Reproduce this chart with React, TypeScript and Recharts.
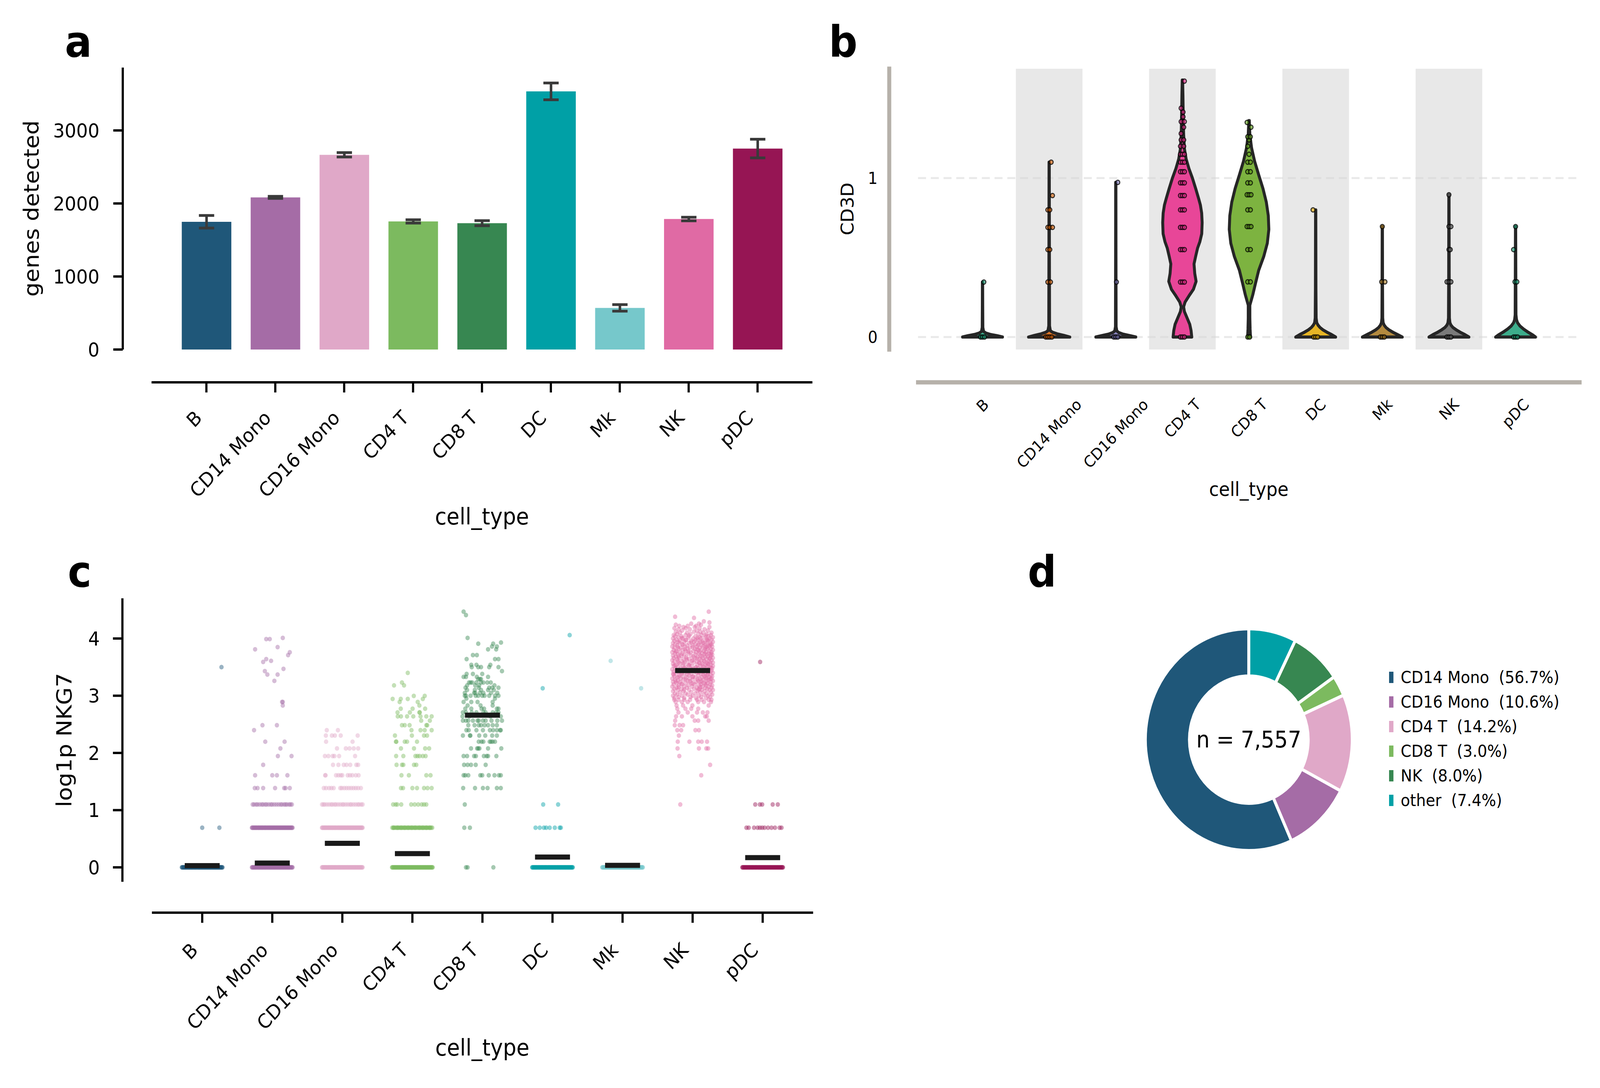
import React from 'react';
import {
  ComposedChart, Bar, Cell, ErrorBar, XAxis, YAxis, Scatter, Area,
  ReferenceArea, ReferenceLine, PieChart, Pie, Legend,
} from 'recharts';

const FONT = "'DejaVu Sans', sans-serif";
const W = 4392;
const H = 2786;

// ---------- shared categories ----------
const CELL_TYPES = ['B', 'CD14 Mono', 'CD16 Mono', 'CD4 T', 'CD8 T', 'DC', 'Mk', 'NK', 'pDC'];
const CAT_TICKS = [0, 1, 2, 3, 4, 5, 6, 7, 8];
const CELL_COLORS = ['#1f5779', '#a56ca6', '#e0a8c8', '#7cba5f', '#378751', '#00a0a6', '#76c8cb', '#e06aa4', '#961554'];
const VIOLIN_COLORS = ['#1b9e77', '#d95f02', '#7570b3', '#e7298a', '#66a61e', '#e6ab02', '#a6761d', '#666666', '#1b9e77'];

// ---------- panel a : genes detected ----------
const GENES_MEAN = [1749, 2083, 2666, 1754, 1730, 3535, 570, 1787, 2752];
const GENES_SEM = [86, 14, 30, 23, 35, 115, 45, 25, 128];
const GENES_TICKS = [0, 1000, 2000, 3000];
const GENES_DOMAIN: [number, number] = [0, 3861];

// ---------- panel b : CD3D violins ([y, half width]) ----------
const CD3D_TICKS = [0, 1];
const CD3D_DOMAIN: [number, number] = [-0.0786, 1.688];
const STRIPE_CATS = [1, 3, 5, 7];
const VIOLIN_B = [[0, 0.3], [0.008, 0.22], [0.016, 0.12], [0.025, 0.05], [0.035, 0.016], [0.06, 0.005], [0.2, 0.003], [0.346, 0.002]];
const VIOLIN_CD14 = [[0, 0.31], [0.01, 0.22], [0.02, 0.12], [0.03, 0.05], [0.04, 0.018], [0.07, 0.006], [0.5, 0.004], [1.1, 0.002]];
const VIOLIN_CD16 = [[0, 0.3], [0.009, 0.21], [0.018, 0.11], [0.028, 0.045], [0.038, 0.016], [0.065, 0.005], [0.5, 0.003], [0.973, 0.002]];
const VIOLIN_CD4T = [[0, 0.14], [0.04, 0.13], [0.08, 0.11], [0.12, 0.07], [0.16, 0.03], [0.19, 0.018], [0.22, 0.04], [0.26, 0.1], [0.3, 0.165], [0.35, 0.205], [0.4, 0.185], [0.46, 0.174], [0.51, 0.2], [0.56, 0.228], [0.6, 0.262], [0.65, 0.29], [0.72, 0.296], [0.78, 0.289], [0.83, 0.27], [0.87, 0.244], [0.93, 0.202], [1.0, 0.15], [1.06, 0.098], [1.12, 0.056], [1.185, 0.03], [1.28, 0.018], [1.4, 0.012], [1.52, 0.008], [1.617, 0.003]];
const VIOLIN_CD8T = [[0, 0.022], [0.05, 0.016], [0.12, 0.012], [0.2, 0.012], [0.267, 0.057], [0.335, 0.095], [0.42, 0.145], [0.506, 0.22], [0.59, 0.274], [0.677, 0.297], [0.763, 0.289], [0.849, 0.259], [0.934, 0.209], [1.02, 0.145], [1.105, 0.084], [1.19, 0.038], [1.276, 0.012], [1.362, 0.004]];
const VIOLIN_DC = [[0, 0.3], [0.015, 0.24], [0.03, 0.17], [0.045, 0.11], [0.06, 0.065], [0.075, 0.035], [0.09, 0.016], [0.12, 0.007], [0.3, 0.004], [0.8, 0.002]];
const VIOLIN_MK = [[0, 0.3], [0.015, 0.23], [0.03, 0.16], [0.045, 0.1], [0.06, 0.055], [0.075, 0.028], [0.09, 0.013], [0.12, 0.006], [0.3, 0.004], [0.695, 0.002]];
const VIOLIN_NK = [[0, 0.3], [0.015, 0.24], [0.03, 0.17], [0.045, 0.11], [0.06, 0.06], [0.075, 0.03], [0.09, 0.015], [0.12, 0.007], [0.4, 0.004], [0.895, 0.002]];
const VIOLIN_PDC = [[0, 0.3], [0.015, 0.25], [0.03, 0.19], [0.05, 0.12], [0.07, 0.065], [0.09, 0.03], [0.11, 0.014], [0.14, 0.006], [0.4, 0.004], [0.695, 0.002]];
const VIOLINS = [VIOLIN_B, VIOLIN_CD14, VIOLIN_CD16, VIOLIN_CD4T, VIOLIN_CD8T, VIOLIN_DC, VIOLIN_MK, VIOLIN_NK, VIOLIN_PDC];

type Row = [number, number[]];
// strip points inside the violins: [value, jitter offsets]
const CD3D_B: Row[] = [[0, [-0.03, 0, 0.03]], [0.346, [0.02]]];
const CD3D_CD14: Row[] = [[0, [-0.05, -0.02, 0.01, 0.04]], [0.346, [-0.02, 0.02]], [0.55, [-0.02, 0.01]], [0.69, [-0.02, 0.01, 0.05]], [0.8, [-0.02, 0.01]], [0.89, [0.05]], [1.1, [0.03]]];
const CD3D_CD16: Row[] = [[0, [-0.03, 0, 0.03]], [0.346, [0.01]], [0.973, [0.03]]];
const CD3D_CD4T: Row[] = [[0, [-0.03, 0, 0.03]], [0.346, [-0.03, 0, 0.03]], [0.55, [-0.03, 0, 0.03]], [0.69, [-0.03, 0, 0.03]], [0.8, [-0.03, 0, 0.03]], [0.89, [-0.03, 0, 0.03]], [0.97, [-0.03, 0, 0.03]], [1.04, [-0.03, 0, 0.03]], [1.1, [-0.03, 0, 0.03]], [1.15, [-0.03, 0, 0.03]], [1.2, [-0.03, 0.02]], [1.24, [-0.02, 0.02]], [1.28, [-0.02]], [1.32, [0.02]], [1.355, [-0.02, 0.03]], [1.385, [0.01]], [1.415, [0.01]], [1.44, [-0.02]], [1.61, [0.03]]];
const CD3D_CD8T: Row[] = [[0, [-0.02, 0.01]], [0.347, [-0.02, 0.02]], [0.55, [-0.02, 0.02]], [0.695, [-0.03, 0, 0.03]], [0.8, [-0.02, 0.02]], [0.895, [-0.03, 0, 0.03]], [0.97, [-0.02, 0.02]], [1.04, [-0.02, 0.02]], [1.1, [-0.02, 0.02]], [1.15, [0]], [1.2, [-0.02]], [1.24, [0]], [1.26, [-0.02, 0.02]], [1.32, [0.03]], [1.35, [-0.03]]];
const CD3D_DC: Row[] = [[0, [-0.03, 0, 0.03]], [0.8, [-0.04]]];
const CD3D_MK: Row[] = [[0, [-0.03, 0, 0.03]], [0.347, [-0.01, 0.04]], [0.695, [0]]];
const CD3D_NK: Row[] = [[0, [-0.03, 0, 0.03]], [0.347, [-0.03, 0, 0.03]], [0.55, [0, 0.02]], [0.695, [0, 0.03]], [0.895, [0]]];
const CD3D_PDC: Row[] = [[0, [-0.03, 0, 0.03]], [0.347, [-0.01, 0.02]], [0.55, [-0.03]], [0.695, [0]]];
const CD3D_POINTS = [CD3D_B, CD3D_CD14, CD3D_CD16, CD3D_CD4T, CD3D_CD8T, CD3D_DC, CD3D_MK, CD3D_NK, CD3D_PDC];

// ---------- panel c : NKG7 strip ([value, jitter offsets]) ----------
const NKG7_TICKS = [0, 1, 2, 3, 4];
const NKG7_DOMAIN: [number, number] = [-0.2526, 4.703];
const NKG7_MEAN = [0.03, 0.075, 0.42, 0.24, 2.66, 0.18, 0.035, 3.44, 0.17];

// dense (solid-looking) strips read as many overlapping points
const DENSE_1 = [-0.29, -0.277, -0.262, -0.248, -0.236, -0.221, -0.205, -0.192, -0.178, -0.163, -0.149, -0.137, -0.121, -0.106, -0.094, -0.079, -0.063, -0.05, -0.036, -0.021, -0.008, 0.006, 0.021, 0.035, 0.048, 0.064, 0.077, 0.092, 0.106, 0.119, 0.134, 0.149, 0.162, 0.177, 0.19, 0.206, 0.22, 0.233, 0.248, 0.262, 0.277, 0.29];
const DENSE_2 = [-0.288, -0.272, -0.259, -0.244, -0.229, -0.216, -0.2, -0.187, -0.172, -0.158, -0.143, -0.13, -0.115, -0.101, -0.087, -0.072, -0.058, -0.043, -0.03, -0.015, 0.0, 0.013, 0.028, 0.042, 0.057, 0.071, 0.085, 0.099, 0.114, 0.128, 0.142, 0.156, 0.171, 0.185, 0.199, 0.213, 0.228, 0.242, 0.256, 0.27, 0.284];

const NKG7_B: Row[] = [
  [0, DENSE_1], [0, DENSE_2],
  [0.693, [0.0, 0.245]],
  [3.5, [0.275]],
];
const NKG7_CD14: Row[] = [
  [0, DENSE_1], [0, DENSE_2],
  [0.693, DENSE_2], [0.693, DENSE_1],
  [1.099, [-0.28, -0.26, -0.23, -0.21, -0.18, -0.15, -0.13, -0.1, -0.08, -0.05, -0.02, 0.0, 0.03, 0.06, 0.09, 0.12, 0.14, 0.17, 0.19, 0.21, 0.24, 0.26, 0.28]],
  [1.386, [-0.25, -0.21, -0.13, 0.04, 0.17, 0.19, 0.25]],
  [1.609, [-0.245, 0.0, 0.066, 0.216]],
  [1.792, [-0.13]],
  [1.946, [0.08, 0.275]],
  [2.079, [0.116]],
  [2.197, [-0.1, 0.176]],
  [2.398, [-0.26]],
  [2.485, [-0.14, 0.066]],
  [2.83, [0.15]],
  [2.89, [0.14, 0.15]],
  [3.26, [0.03]],
  [3.37, [-0.07, 0.076]],
  [3.43, [-0.106]],
  [3.47, [0.16]],
  [3.59, [-0.13]],
  [3.61, [-0.017]],
  [3.64, [-0.086]],
  [3.71, [0.226]],
  [3.76, [0.25]],
  [3.81, [-0.245]],
  [3.85, [0.076]],
  [3.99, [-0.086, -0.036]],
  [4.01, [0.15]],
];
const NKG7_CD16: Row[] = [
  [0, DENSE_1], [0, DENSE_2],
  [0.693, DENSE_1], [0.693, DENSE_2],
  [1.099, [-0.29, -0.27, -0.25, -0.22, -0.19, -0.16, -0.14, -0.11, -0.09, -0.06, -0.03, 0.0, 0.02, 0.05, 0.08, 0.11, 0.13, 0.16, 0.19, 0.22, 0.24, 0.27, 0.29]],
  [1.386, [-0.265, -0.232, -0.189, -0.156, -0.123, -0.03, -0.007, 0.027, 0.06, 0.093, 0.126, 0.159, 0.192, 0.226, 0.265]],
  [1.609, [-0.245, -0.239, -0.09, -0.056, -0.023, 0.0, 0.076, 0.109, 0.143, 0.192, 0.232]],
  [1.792, [-0.133, -0.056, 0.02, 0.06, 0.113, 0.2, 0.226]],
  [1.946, [-0.249, -0.199, -0.139, -0.113, -0.046, 0.182]],
  [2.079, [-0.076, 0.05, 0.103, 0.163, 0.226]],
  [2.197, [-0.232, 0.146]],
  [2.303, [-0.235, -0.149, -0.106, -0.023, 0.219]],
  [2.398, [-0.222, -0.063]],
];
const NKG7_CD4T: Row[] = [
  [0, DENSE_1], [0, DENSE_2],
  [0.693, DENSE_2], [0.693, [-0.27, -0.21, -0.16, -0.11, -0.06, -0.01, 0.04, 0.1, 0.15, 0.2, 0.25]],
  [1.099, [-0.275, -0.239, -0.216, -0.159, -0.017, 0.033, 0.083, 0.133, 0.166, 0.199]],
  [1.386, [-0.163, -0.133, 0.0, 0.066, 0.166, 0.216, 0.275]],
  [1.609, [-0.156, -0.05, 0.199, 0.259]],
  [1.792, [-0.226, -0.149, -0.129, 0.023, 0.056]],
  [1.946, [-0.232, -0.129, 0.043, 0.073, 0.103, 0.149, 0.189]],
  [2.079, [-0.163, 0.023, 0.182, 0.239]],
  [2.197, [-0.235, -0.229, -0.109, -0.076, 0.066]],
  [2.303, [-0.249, -0.007, 0.166, 0.209]],
  [2.398, [-0.013, 0.116, 0.176, 0.275]],
  [2.485, [-0.149, -0.109, -0.04, 0.199, 0.212]],
  [2.565, [0.126, 0.249]],
  [2.639, [-0.209, -0.163, -0.076, 0.013, 0.116, 0.199, 0.275]],
  [2.708, [-0.212, -0.036, 0.1, 0.106]],
  [2.773, [-0.166, 0.003, 0.182]],
  [2.83, [0.1]],
  [2.89, [-0.182, 0.076]],
  [2.944, [-0.282, -0.166, -0.066, 0.149]],
  [2.996, [0.02, 0.176]],
  [3.18, [-0.262, -0.119]],
  [3.23, [-0.149]],
  [3.4, [-0.066]],
];
const NKG7_CD8T: Row[] = [
  [0, [-0.235, -0.212, 0.156]],
  [0.693, [-0.259, -0.179]],
  [1.099, [-0.252]],
  [1.386, [-0.275, -0.106, 0.007, 0.073, 0.206, 0.262]],
  [1.609, [-0.269, -0.245, -0.202, -0.03, -0.003, 0.09, 0.172, 0.235, 0.262]],
  [1.792, [-0.262, -0.212, -0.163, -0.096, 0.046]],
  [1.946, [-0.269, -0.219, -0.119, -0.093, 0.02, 0.06, 0.08, 0.199]],
  [2.079, [-0.163, -0.076, -0.06, -0.043, 0.08, 0.269]],
  [2.197, [-0.053, -0.013, 0.013, 0.103, 0.123, 0.146, 0.179]],
  [2.303, [-0.279, -0.179, -0.172, -0.046, 0.04, 0.139, 0.206]],
  [2.398, [-0.229, -0.196, -0.086, 0.007, 0.106, 0.153, 0.206, 0.252, 0.262]],
  [2.485, [-0.202, -0.113, -0.053, -0.02, 0.03, 0.08, 0.146, 0.206]],
  [2.565, [-0.279, -0.235, -0.202, -0.136, -0.07, -0.053, 0.007, 0.046, 0.129, 0.212, 0.279]],
  [2.639, [-0.285, -0.186, 0.113, 0.262]],
  [2.708, [-0.279, -0.235, -0.153, -0.086, 0.013, 0.046, 0.146, 0.196, 0.229]],
  [2.773, [-0.245, -0.159, -0.013, 0.023, 0.206, 0.229]],
  [2.83, [-0.212, -0.027, 0.146]],
  [2.89, [-0.269, -0.159, -0.07, 0.146]],
  [2.95, [-0.229, 0.179]],
  [3.0, [-0.252, -0.235, -0.169, -0.096, -0.06, -0.003, 0.03, 0.096, 0.179, 0.229]],
  [3.05, [-0.252, -0.119, -0.103, -0.036, 0.013, 0.123, 0.212]],
  [3.1, [-0.219, -0.109, -0.02, 0.08, 0.163]],
  [3.14, [-0.242, -0.053, 0.096, 0.139, 0.229]],
  [3.18, [-0.219, -0.103, -0.046, 0.172]],
  [3.23, [-0.192, -0.169, -0.146, -0.086, -0.02, 0.013, 0.07, 0.119]],
  [3.29, [-0.06, -0.036, -0.02]],
  [3.33, [-0.269, -0.235, -0.08, 0.08]],
  [3.38, [-0.226, -0.136, -0.003]],
  [3.43, [0.279]],
  [3.5, [-0.153, -0.06, -0.02, 0.096, 0.229]],
  [3.54, [-0.159, -0.086, 0.113]],
  [3.64, [-0.226, 0.179, 0.229]],
  [3.71, [-0.136, -0.08]],
  [3.81, [0.08, 0.196]],
  [3.86, [0.136, 0.206]],
  [3.91, [-0.06, 0.153]],
  [3.93, [0.265]],
  [4.01, [-0.212]],
  [4.41, [-0.235]],
  [4.47, [-0.269]],
];
const NKG7_DC: Row[] = [
  [0, DENSE_1], [0, DENSE_2],
  [0.693, [-0.242, -0.182, -0.123, -0.09, -0.04, 0.033, 0.103, 0.119]],
  [1.099, [-0.133, 0.08]],
  [3.13, [-0.14]],
  [4.06, [0.245]],
];
const NKG7_MK: Row[] = [
  [0, DENSE_1], [0, DENSE_2],
  [3.61, [-0.17]],
  [3.13, [0.265]],
];
const NKG7_NK: Row[] = [
  [1.099, [-0.176]], [1.609, [0.123]], [1.792, [0.25]], [1.946, [-0.19]],
  [2.079, [-0.215, 0.09, 0.196, 0.222]],
  [2.197, [-0.212, -0.046, 0.08, 0.13, 0.206]],
  [2.303, [-0.196]],
  [2.398, [-0.219, -0.163, 0.04, 0.09]],
  [2.485, [-0.255, -0.186, -0.136]],
  [2.565, [-0.249, 0.03, 0.08, 0.229]],
  [2.639, [-0.236, -0.153, -0.003, 0.179, 0.202]],
  [2.708, [-0.202, -0.07, 0.063, 0.146, 0.212]],
  [2.773, [-0.219, -0.103, -0.02, 0.08]],
  [2.83, [-0.229, -0.136, -0.003, 0.229]],
  [2.89, [-0.242, -0.153, -0.07, 0.08, 0.163, 0.262]],
  [2.93, [-0.262, -0.202, -0.119, -0.036, 0.063, 0.129, 0.229, 0.269]],
  [2.96, [-0.26, -0.12, 0.05, 0.19]],
  [2.98, [-0.2, -0.03, 0.12, 0.25]],
  [3.0, [-0.28, -0.15, 0.0, 0.09, 0.22]],
  [3.02, [-0.22, -0.07, 0.16, 0.28]],
  [3.04, [-0.25, -0.1, 0.04, 0.2]],
  [3.06, [-0.18, -0.02, 0.11, 0.26]],
  [3.08, [-0.28, -0.13, 0.07, 0.17]],
  [3.1, [-0.21, -0.05, 0.13, 0.24, 0.29]],
  [3.11, [-0.12, 0.08]],
  [3.12, [-0.26, -0.16, 0.02, 0.1, 0.21]],
  [3.14, [-0.23, -0.08, 0.06, 0.18, 0.27]],
  [3.15, [-0.2, 0.11]],
  [3.16, [-0.29, -0.12, -0.01, 0.14, 0.23]],
  [3.18, [-0.2, -0.06, 0.09, 0.19, 0.28]],
  [3.2, [-0.27, -0.15, 0.03, 0.12, 0.25]],
  [3.21, [-0.16, 0.0, 0.18]],
  [3.22, [-0.23, -0.1, -0.02, 0.16, 0.21]],
  [3.24, [-0.28, -0.18, 0.05, 0.11, 0.26]],
  [3.25, [-0.24, -0.04, 0.13]],
  [3.26, [-0.21, -0.07, 0.08, 0.2, 0.29]],
  [3.28, [-0.25, -0.13, 0.0, 0.15, 0.23]],
  [3.29, [-0.1, 0.07, 0.25]],
  [3.3, [-0.29, -0.17, -0.04, 0.1, 0.19, 0.27]],
  [3.32, [-0.22, -0.09, 0.04, 0.13, 0.24]],
  [3.33, [-0.2, 0.0, 0.19]],
  [3.34, [-0.26, -0.14, 0.01, 0.17, 0.28]],
  [3.36, [-0.19, -0.05, 0.08, 0.21, 0.26]],
  [3.37, [-0.27, -0.08, 0.15]],
  [3.38, [-0.28, -0.16, -0.02, 0.12, 0.22]],
  [3.4, [-0.24, -0.11, 0.06, 0.18, 0.29]],
  [3.41, [-0.15, 0.09, 0.22]],
  [3.42, [-0.27, -0.2, -0.06, 0.03, 0.15, 0.25]],
  [3.44, [-0.22, -0.13, 0.1, 0.2, 0.27]],
  [3.45, [-0.22, -0.02, 0.17]],
  [3.46, [-0.29, -0.08, 0.01, 0.13, 0.23]],
  [3.48, [-0.25, -0.17, -0.03, 0.08, 0.18, 0.28]],
  [3.49, [-0.12, 0.04, 0.26]],
  [3.5, [-0.21, -0.1, 0.05, 0.16, 0.24]],
  [3.52, [-0.27, -0.14, -0.01, 0.11, 0.21, 0.29]],
  [3.53, [-0.25, -0.05, 0.14]],
  [3.54, [-0.23, -0.06, 0.07, 0.19, 0.26]],
  [3.56, [-0.28, -0.18, -0.04, 0.14, 0.22]],
  [3.57, [-0.13, 0.1, 0.2]],
  [3.58, [-0.2, -0.11, 0.02, 0.09, 0.25, 0.29]],
  [3.6, [-0.26, -0.15, 0.06, 0.17, 0.23]],
  [3.61, [-0.21, -0.01, 0.16]],
  [3.62, [-0.29, -0.08, 0.0, 0.12, 0.27]],
  [3.64, [-0.22, -0.13, -0.05, 0.1, 0.2]],
  [3.65, [-0.09, 0.06, 0.24]],
  [3.66, [-0.27, -0.19, 0.03, 0.15, 0.25, 0.29]],
  [3.68, [-0.24, -0.09, 0.07, 0.18, 0.22]],
  [3.69, [-0.2, 0.01, 0.13]],
  [3.7, [-0.28, -0.16, -0.02, 0.11, 0.26]],
  [3.72, [-0.21, -0.12, 0.04, 0.2, 0.28]],
  [3.73, [-0.15, 0.17, 0.26]],
  [3.74, [-0.25, -0.06, 0.09, 0.14, 0.23]],
  [3.76, [-0.29, -0.18, -0.03, 0.05, 0.19, 0.27]],
  [3.77, [-0.24, -0.06, 0.1]],
  [3.78, [-0.23, -0.1, 0.01, 0.16, 0.24]],
  [3.8, [-0.27, -0.14, 0.08, 0.12, 0.29]],
  [3.81, [-0.11, 0.06, 0.18]],
  [3.82, [-0.2, -0.07, 0.03, 0.21, 0.26]],
  [3.84, [-0.26, -0.17, -0.04, 0.1, 0.18]],
  [3.85, [-0.21, 0.0, 0.2]],
  [3.86, [-0.29, -0.11, 0.06, 0.15, 0.24, 0.28]],
  [3.88, [-0.22, -0.08, 0.0, 0.13, 0.22]],
  [3.89, [-0.14, 0.08, 0.25]],
  [3.9, [-0.25, -0.15, 0.04, 0.19, 0.27]],
  [3.92, [-0.28, -0.05, 0.09, 0.17, 0.25]],
  [3.93, [-0.19, -0.02, 0.15]],
  [3.94, [-0.21, -0.12, 0.02, 0.11, 0.29]],
  [3.96, [-0.26, -0.18, -0.02, 0.14, 0.22]],
  [3.97, [-0.1, 0.04, 0.21]],
  [3.98, [-0.23, -0.09, 0.07, 0.2, 0.27]],
  [4.0, [-0.28, -0.14, 0.01, 0.12, 0.24]],
  [4.01, [-0.15, 0.07]],
  [4.02, [-0.2, -0.06, 0.1, 0.18, 0.29]],
  [4.04, [-0.25, -0.16, 0.04, 0.23]],
  [4.05, [-0.05, 0.19]],
  [4.06, [-0.27, -0.1, 0.13, 0.26]],
  [4.08, [-0.22, -0.03, 0.08, 0.2]],
  [4.1, [-0.18, -0.08, 0.15, 0.27]],
  [4.12, [-0.24, 0.02, 0.11]],
  [4.14, [-0.15, 0.06, 0.22]],
  [4.16, [-0.2, -0.04, 0.17]],
  [4.18, [-0.26, -0.1, 0.1]],
  [4.2, [-0.13, 0.03, 0.24]],
  [4.22, [-0.19, -0.07, 0.05]],
  [4.24, [-0.24, 0.12]],
  [4.26, [-0.02, 0.09]],
  [4.28, [0.24]], [4.3, [0.16]], [4.36, [0.02]], [4.38, [-0.25]], [4.47, [0.23]],
];
const NKG7_PDC: Row[] = [
  [0, DENSE_1], [0, DENSE_2],
  [0.693, [-0.232, -0.199, -0.123, -0.073, -0.04, -0.007, 0.027, 0.076, 0.126, 0.176, 0.242, 0.269]],
  [1.099, [-0.106, -0.04, -0.007, 0.143, 0.216]],
  [3.59, [-0.036]],
];
const NKG7_POINTS = [NKG7_B, NKG7_CD14, NKG7_CD16, NKG7_CD4T, NKG7_CD8T, NKG7_DC, NKG7_MK, NKG7_NK, NKG7_PDC];

// ---------- panel d : composition donut ----------
const PIE_LABELS = ['CD14 Mono', 'CD16 Mono', 'CD4 T', 'CD8 T', 'NK', 'other'];
const PIE_VALUES = [56.7, 10.6, 14.2, 3.0, 8.0, 7.4];
const PIE_COLORS = ['#1f5779', '#a56ca6', '#e0a8c8', '#7cba5f', '#378751', '#00a0a6'];
const N_CELLS_LABEL = 'n = 7,557';

// ---------- helpers ----------
const flattenRows = (rows: Row[], idx: number, yKey: string) =>
  rows.flatMap(([y, offs]) => offs.map((o) => ({ x: idx + o, [yKey]: y })));

const violinData = (profile: number[][], idx: number) => {
  const top = profile[profile.length - 1][0];
  return [
    { v: profile[0][0], w: [idx, idx] },
    ...profile.map(([v, hw]) => ({ v, w: [idx - hw, idx + hw] })),
    { v: top, w: [idx, idx] },
  ];
};

const CHAR_W: Record<string, number> = {
  B: 0.686, C: 0.698, D: 0.77, M: 0.863, T: 0.611, K: 0.656, N: 0.748, k: 0.579,
  o: 0.612, n: 0.634, p: 0.635, '1': 0.636, '4': 0.636, '6': 0.636, '8': 0.636, ' ': 0.318,
};
const textWidthEm = (s: string) => s.split('').reduce((a, c) => a + (CHAR_W[c] ?? 0.62), 0);

// tick label: rotated 45°, right aligned (panels a, c)
const RightRotTick = (props: any) => {
  const { x, y, payload } = props;
  const ax = x - 9;
  const ay = y + 152;
  return (
    <text x={ax} y={ay} transform={`rotate(-45 ${ax} ${ay})`} textAnchor="end"
      fontFamily={FONT} fontSize={50} fill="#000">
      {CELL_TYPES[payload.value]}
    </text>
  );
};

// tick label: rotated 45°, centred (panel b)
const CenterRotTick = (props: any) => {
  const { x, y, payload } = props;
  const label = CELL_TYPES[payload.value] ?? '';
  const fs = 40;
  const w = textWidthEm(label) * fs;
  const h = 0.73 * fs;
  const cy = y + 123 + 0.354 * (w + h);
  return (
    <text x={x} y={cy} transform={`rotate(-45 ${x} ${cy})`} textAnchor="middle"
      dominantBaseline="central" fontFamily={FONT} fontSize={fs} fill="#000">
      {label}
    </text>
  );
};

const BLACK_LINE = { stroke: '#000', strokeWidth: 6 };
const GRAY_SPINE = { stroke: '#b6b1aa', strokeWidth: 11, strokeLinecap: 'square' as const };

// ---------- panels ----------
function PanelA() {
  const data = CELL_TYPES.map((name, i) => ({ i, name, g: GENES_MEAN[i], e: GENES_SEM[i] }));
  return (
    <ComposedChart width={2300} height={1400} data={data} margin={{ top: 173, right: 70, bottom: 504, left: 415 }}>
      <XAxis type="number" dataKey="i" domain={[-0.796, 8.796]} ticks={CAT_TICKS} interval={0}
        allowDataOverflow height={1} tickSize={26} tickMargin={0}
        axisLine={{ ...BLACK_LINE, transform: 'translate(0 84)' }}
        tickLine={{ ...BLACK_LINE, transform: 'translate(0 84)' }}
        tick={(p: any) => <RightRotTick {...p} />} />
      <YAxis type="number" domain={GENES_DOMAIN} ticks={GENES_TICKS} interval={0} allowDataOverflow
        width={1} tickSize={26} tickMargin={117}
        axisLine={{ ...BLACK_LINE, transform: 'translate(-79 0)' }}
        tickLine={{ ...BLACK_LINE, transform: 'translate(-79 0)' }}
        tick={{ fontSize: 50, fill: '#000', fontFamily: FONT }} />
      <Bar dataKey="g" barSize={136} isAnimationActive={false}>
        {data.map((d, i) => <Cell key={d.name} fill={CELL_COLORS[i]} />)}
        <ErrorBar dataKey="e" width={21} strokeWidth={7} stroke="#3a3a3a" />
      </Bar>
    </ComposedChart>
  );
}

function PanelB() {
  return (
    <ComposedChart layout="vertical" width={2142} height={1400} margin={{ top: 176, right: 56, bottom: 504, left: 269 }}>
      <XAxis type="number" dataKey="x" domain={[-0.968, 8.961]} ticks={CAT_TICKS} interval={0}
        allowDataOverflow height={1} tickSize={0} tickMargin={0} tickLine={false}
        axisLine={{ ...GRAY_SPINE, transform: 'translate(0 84)' }}
        tick={(p: any) => <CenterRotTick {...p} />} />
      <YAxis type="number" dataKey="v" domain={CD3D_DOMAIN} ticks={CD3D_TICKS} interval={0} allowDataOverflow
        reversed width={1} tickSize={0} tickMargin={111} tickLine={false}
        axisLine={{ ...GRAY_SPINE, transform: 'translate(-79 0)' }}
        tick={{ fontSize: 42, fill: '#000', fontFamily: FONT }} />
      {STRIPE_CATS.map((c) => (
        <ReferenceArea key={`s${c}`} x1={c - 0.5} x2={c + 0.5} fill="#e8e8e8" fillOpacity={1}
          stroke="none" ifOverflow="hidden" zIndex={-70} />
      ))}
      {CD3D_TICKS.map((t) => (
        <ReferenceLine key={`g${t}`} y={t} stroke="#d4d4d4" strokeOpacity={0.5} strokeWidth={5}
          strokeDasharray="22 13" zIndex={-60} />
      ))}
      {VIOLINS.map((prof, i) => (
        <Area key={`v${i}`} data={violinData(prof, i)} dataKey="w" type="linear"
          fill={VIOLIN_COLORS[i]} fillOpacity={0.85} stroke="#262626" strokeWidth={8}
          strokeLinejoin="round" dot={false} activeDot={false} isAnimationActive={false} />
      ))}
      {CD3D_POINTS.map((rows, i) => (
        <Scatter key={`p${i}`} data={flattenRows(rows, i, 'v')} isAnimationActive={false}
          shape={(p: any) => (
            <circle cx={p.cx} cy={p.cy} r={5.5} fill={VIOLIN_COLORS[i]} fillOpacity={0.6}
              stroke="#000" strokeOpacity={0.75} strokeWidth={3} />
          )} />
      ))}
    </ComposedChart>
  );
}

function PanelC() {
  const means = NKG7_MEAN.map((m, i) => ({ x: i, y: m }));
  return (
    <ComposedChart width={2300} height={1406} margin={{ top: 152, right: 68, bottom: 527, left: 416 }}>
      <XAxis type="number" dataKey="x" domain={[-0.718, 8.72]} ticks={CAT_TICKS} interval={0}
        allowDataOverflow height={1} tickSize={26} tickMargin={0}
        axisLine={{ ...BLACK_LINE, transform: 'translate(0 79)' }}
        tickLine={{ ...BLACK_LINE, transform: 'translate(0 79)' }}
        tick={(p: any) => <RightRotTick {...p} />} />
      <YAxis type="number" dataKey="y" domain={NKG7_DOMAIN} ticks={NKG7_TICKS} interval={0} allowDataOverflow
        width={1} tickSize={26} tickMargin={117}
        axisLine={{ ...BLACK_LINE, transform: 'translate(-81 0)' }}
        tickLine={{ ...BLACK_LINE, transform: 'translate(-81 0)' }}
        tick={{ fontSize: 50, fill: '#000', fontFamily: FONT }} />
      {NKG7_POINTS.map((rows, i) => (
        <Scatter key={`c${i}`} data={flattenRows(rows, i, 'y')} isAnimationActive={false}
          shape={(p: any) => (
            <circle cx={p.cx} cy={p.cy} r={6} fill={CELL_COLORS[i]} fillOpacity={0.45} />
          )} />
      ))}
      <Scatter data={means} isAnimationActive={false}
        shape={(p: any) => <rect x={p.cx - 48} y={p.cy - 6.5} width={96} height={13} fill="#1a1a1a" />} />
    </ComposedChart>
  );
}

const PieLegend = () => (
  <div style={{ fontFamily: FONT, fontSize: 42, color: '#000' }}>
    {PIE_LABELS.map((name, i) => (
      <div key={name} style={{ display: 'flex', alignItems: 'center', height: 63 }}>
        <div style={{ width: 12, height: 29, background: PIE_COLORS[i], marginRight: 20, flex: 'none' }} />
        <span style={{ whiteSpace: 'pre', lineHeight: '63px' }}>{`${name}  (${PIE_VALUES[i].toFixed(1)}%)`}</span>
      </div>
    ))}
  </div>
);

function PanelD() {
  const data = PIE_LABELS.map((name, i) => ({ name, value: PIE_VALUES[i] }));
  return (
    <PieChart width={1692} height={1000} margin={{ top: 0, right: 0, bottom: 0, left: 0 }}>
      <Pie data={data} dataKey="value" nameKey="name" cx={728} cy={514} innerRadius={163} outerRadius={284}
        startAngle={90} endAngle={450} stroke="#fff" strokeWidth={8} isAnimationActive={false}>
        {data.map((d, i) => <Cell key={d.name} fill={PIE_COLORS[i]} />)}
      </Pie>
      <Legend layout="vertical" align="right" verticalAlign="top" content={() => <PieLegend />}
        wrapperStyle={{ left: 1113, top: 323, width: 560 }} />
    </PieChart>
  );
}

// the browser viewport may be narrower than the requested canvas: fit the figure to it
const getScale = () => {
  if (typeof window === 'undefined') return { sx: 1, sy: 1 };
  const w = window.innerWidth || W;
  const h = window.innerHeight || H;
  return { sx: w / W, sy: h / H };
};

export default function App() {
  const [scale, setScale] = React.useState(getScale);
  React.useEffect(() => {
    const onResize = () => setScale(getScale());
    window.addEventListener('resize', onResize);
    return () => window.removeEventListener('resize', onResize);
  }, []);
  const txt = { fontFamily: FONT, fill: '#000' };
  return (
    <div style={{ position: 'fixed', left: 0, top: 0, width: W * scale.sx, height: H * scale.sy, overflow: 'hidden', background: '#fff' }}>
      <div style={{ position: 'absolute', left: 0, top: 0, width: W, height: H, background: '#fff', transform: `scale(${scale.sx}, ${scale.sy})`, transformOrigin: '0 0' }}>
        <div style={{ position: 'absolute', left: 0, top: 0 }}><PanelA /></div>
        <div style={{ position: 'absolute', left: 2250, top: 0 }}><PanelB /></div>
        <div style={{ position: 'absolute', left: 0, top: 1380 }}><PanelC /></div>
        <div style={{ position: 'absolute', left: 2700, top: 1380 }}><PanelD /></div>
        <svg width={W} height={H} style={{ position: 'absolute', left: 0, top: 0, pointerEvents: 'none' }}>
          <g {...txt} fontWeight="bold" fontSize={110}>
            <text x={178} y={145}>a</text>
            <text x={2275} y={145}>b</text>
            <text x={186} y={1502}>c</text>
            <text x={2821} y={1502}>d</text>
          </g>
          <g {...txt} fontSize={58} textAnchor="middle">
            <text x={106} y={534} transform="rotate(-90 106 534)">genes detected</text>
            <text x={1323} y={1343}>cell_type</text>
            <text x={196} y={1895} transform="rotate(-90 196 1895)">log1p NKG7</text>
            <text x={1324} y={2703}>cell_type</text>
            <text x={3428} y={1894} dominantBaseline="central">{N_CELLS_LABEL}</text>
          </g>
          <g {...txt} textAnchor="middle">
            <text x={2343} y={535} fontSize={47} transform="rotate(-90 2343 535)">CD3D</text>
            <text x={3428} y={1270} fontSize={49}>cell_type</text>
          </g>
        </svg>
      </div>
    </div>
  );
}
